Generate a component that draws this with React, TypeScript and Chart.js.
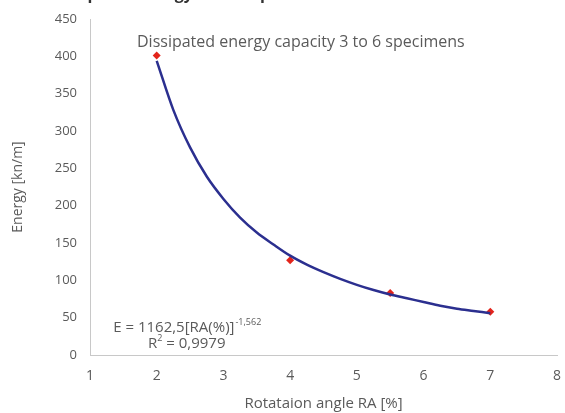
import React, { useEffect, useRef } from "react";
import { Chart, registerables } from "chart.js";

Chart.register(...registerables);

const measuredX = [2, 4, 5.5, 7];
const measuredEnergy = [401, 127, 83, 58];

const trendX = [2, 2.25, 2.5, 2.75, 3, 3.25, 3.5, 3.75, 4, 4.25, 4.5, 4.75, 5, 5.25, 5.5, 5.75, 6, 6.25, 6.5, 6.75, 7];
const trendEnergy = [394, 328, 278, 239, 209, 184, 164, 148, 133, 121, 111, 102, 94, 87, 81, 76, 71, 66, 62, 59, 56];

const xTicks = [1, 2, 3, 4, 5, 6, 7, 8];
const yTicks = [0, 50, 100, 150, 200, 250, 300, 350, 400, 450];

const topTitlePrefix = "Figure 15. ";
const topTitle = "Dissipated energy for 3-6 specimens";
const annotationText = "Dissipated energy capacity 3 to 6 specimens";
const eqMain = "E = 1162,5[RA(%)]";
const eqExp = "-1,562";
const r2Text = " = 0,9979";

const FONT = "'Open Sans', sans-serif";
const GRAY = "#5a5a5a";

const textPlugin = {
  id: "texts",
  afterDraw(chart: any) {
    const ctx = chart.ctx;
    const xs = chart.scales.x;
    const ys = chart.scales.y;
    ctx.save();
    // clipped top title (only descenders visible)
    ctx.fillStyle = "#333";
    ctx.font = `bold 16px ${FONT}`;
    ctx.textBaseline = "alphabetic";
    ctx.textAlign = "right";
    ctx.fillText(topTitlePrefix, 50, -1);
    ctx.textAlign = "left";
    ctx.fillText(topTitle, 50, -1);

    ctx.fillStyle = GRAY;
    ctx.font = `16px ${FONT}`;
    ctx.textAlign = "center";
    ctx.textBaseline = "middle";
    ctx.fillText(annotationText, xs.getPixelForValue(4.16), ys.getPixelForValue(419));

    // equation
    const cx = xs.getPixelForValue(2.45);
    const y1 = ys.getPixelForValue(37);
    const big = `15px ${FONT}`;
    const small = `9px ${FONT}`;
    ctx.font = big;
    const w1 = ctx.measureText(eqMain).width;
    ctx.font = small;
    const w2 = ctx.measureText(eqExp).width;
    let x0 = cx - (w1 + w2) / 2;
    ctx.textAlign = "left";
    ctx.font = big;
    ctx.fillText(eqMain, x0, y1);
    ctx.font = small;
    ctx.fillText(eqExp, x0 + w1 + 1, y1 - 5);

    const y2 = ys.getPixelForValue(15);
    ctx.font = big;
    const wr = ctx.measureText("R").width;
    const wv = ctx.measureText(r2Text).width;
    ctx.font = small;
    const ws = ctx.measureText("2").width;
    x0 = cx - (wr + ws + wv) / 2;
    ctx.font = big;
    ctx.fillText("R", x0, y2);
    ctx.font = small;
    ctx.fillText("2", x0 + wr, y2 - 5);
    ctx.font = big;
    ctx.fillText(r2Text, x0 + wr + ws, y2);
    ctx.restore();
  },
};

export default function App() {
  const ref = useRef<HTMLCanvasElement>(null);
  useEffect(() => {
    const chart = new Chart(ref.current!, {
      type: "scatter",
      data: {
        datasets: [
          {
            label: "trend",
            data: trendX.map((x, i) => ({ x, y: trendEnergy[i] })),
            showLine: true,
            borderColor: "#2b2f8f",
            borderWidth: 2.5,
            pointRadius: 0,
            cubicInterpolationMode: "monotone",
            fill: false,
          },
          {
            label: "measured",
            data: measuredX.map((x, i) => ({ x, y: measuredEnergy[i] })),
            showLine: false,
            pointStyle: "rectRot",
            pointRadius: 4,
            backgroundColor: "#e3241b",
            borderColor: "#e3241b",
            borderWidth: 0,
          },
        ],
      },
      options: {
        animation: false,
        responsive: false,
        layout: { padding: { top: 19, right: 8, left: 10, bottom: 0 } },
        plugins: { legend: { display: false }, tooltip: { enabled: false }, title: { display: false } },
        scales: {
          x: {
            type: "linear",
            min: 1,
            max: 8,
            afterBuildTicks: (s: any) => { s.ticks = xTicks.map((v) => ({ value: v })); },
            afterFit: (s: any) => { s.height = 58; s.paddingRight = 0; s.paddingLeft = 0; },
            grid: { display: false, drawTicks: true, tickLength: 5, color: "#c8c8c8" },
            border: { display: true, color: "#c8c8c8", width: 1 },
            ticks: { color: GRAY, font: { family: FONT, size: 14 }, padding: 8, maxRotation: 0 },
            title: { display: true, text: "Rotataion angle RA [%]", color: GRAY, font: { family: FONT, size: 15 }, padding: { top: 11, bottom: 0 } },
          },
          y: {
            type: "linear",
            min: 0,
            max: 450,
            afterBuildTicks: (s: any) => { s.ticks = yTicks.map((v) => ({ value: v })); },
            afterFit: (s: any) => { s.width = 80; },
            grid: { display: false, drawTicks: true, tickLength: 5, color: "#c8c8c8" },
            border: { display: true, color: "#c8c8c8", width: 1 },
            ticks: { color: GRAY, font: { family: FONT, size: 13 }, padding: 8 },
            title: { display: true, text: "Energy [kn/m]", color: GRAY, font: { family: FONT, size: 14 }, padding: { top: 0, bottom: 10 } },
          },
        },
      },
      plugins: [textPlugin],
    } as any);
    return () => chart.destroy();
  }, []);
  return (
    <div style={{ position: "fixed", left: 0, top: 0, width: 565, height: 413, background: "#fff" }}>
      <canvas ref={ref} width={565} height={413} style={{ width: 565, height: 413, display: "block" }} />
    </div>
  );
}
